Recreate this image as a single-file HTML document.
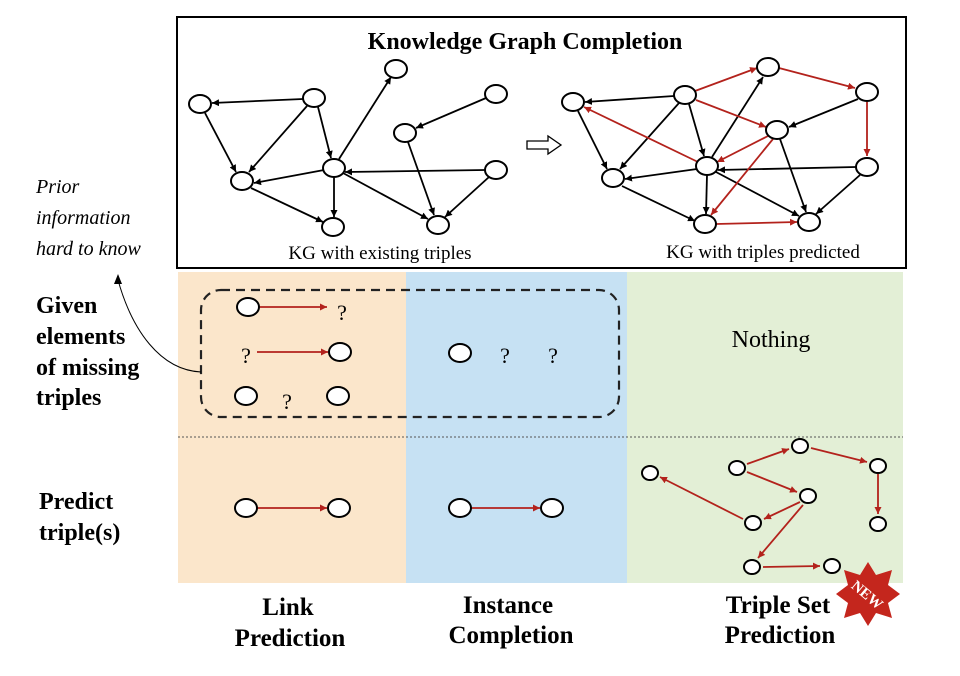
<!DOCTYPE html>
<html><head><meta charset="utf-8"><style>
html,body{margin:0;padding:0;background:#fff}
svg{display:block}
text{font-family:"Liberation Serif",serif}
</style></head><body>
<svg width="960" height="676" viewBox="0 0 960 676" xmlns="http://www.w3.org/2000/svg">
<defs>
<marker id="ab" viewBox="0 0 10 10" refX="10" refY="5" markerWidth="7" markerHeight="7" orient="auto-start-reverse" markerUnits="userSpaceOnUse"><path d="M0,0 L10,5 L0,10 z" fill="#000"/></marker>
<marker id="ar" viewBox="0 0 10 10" refX="10" refY="5" markerWidth="7" markerHeight="7" orient="auto-start-reverse" markerUnits="userSpaceOnUse"><path d="M0,0 L10,5 L0,10 z" fill="#b3221c"/></marker>
</defs>
<rect x="178" y="272" width="228" height="311" fill="#fbe6cb"/>
<rect x="406" y="272" width="221" height="311" fill="#c6e1f3"/>
<rect x="627" y="272" width="276" height="311" fill="#e3efd6"/>
<line x1="178" y1="437" x2="903" y2="437" stroke="#555" stroke-width="1" stroke-dasharray="2,2"/>
<rect x="177" y="17" width="729" height="251" fill="#fff" stroke="#000" stroke-width="2"/>
<text x="525" y="49" font-size="24" font-weight="bold" text-anchor="middle">Knowledge Graph Completion</text>
<text x="380" y="259" font-size="19" text-anchor="middle">KG with existing triples</text>
<text x="763" y="258" font-size="19" text-anchor="middle">KG with triples predicted</text>
<path d="M527,141 L548,141 L548,136 L561,145 L548,154 L548,149 L527,149 z" fill="#fff" stroke="#000" stroke-width="1.3"/>
<g stroke="#000" stroke-width="1.8" fill="none" marker-end="url(#ab)">
<line x1="303" y1="99" x2="212" y2="103"/>
<line x1="205" y1="113" x2="236" y2="172"/>
<line x1="307" y1="106" x2="249" y2="172"/>
<line x1="318" y1="107" x2="331" y2="158"/>
<line x1="339" y1="159" x2="391" y2="77"/>
<line x1="324" y1="170" x2="254" y2="183"/>
<line x1="334" y1="177" x2="334" y2="217"/>
<line x1="251" y1="188" x2="323" y2="222"/>
<line x1="343" y1="173" x2="428" y2="219"/>
<line x1="485" y1="170" x2="345" y2="172"/>
<line x1="489" y1="177" x2="445" y2="217"/>
<line x1="486" y1="98" x2="416" y2="128"/>
<line x1="408" y1="142" x2="434" y2="215"/>
<line x1="674" y1="96" x2="585" y2="102"/>
<line x1="578" y1="111" x2="607" y2="169"/>
<line x1="679" y1="103" x2="620" y2="169"/>
<line x1="689" y1="104" x2="704" y2="156"/>
<line x1="712" y1="157" x2="763" y2="77"/>
<line x1="697" y1="169" x2="625" y2="179"/>
<line x1="707" y1="175" x2="706" y2="214"/>
<line x1="622" y1="186" x2="695" y2="221"/>
<line x1="716" y1="172" x2="799" y2="216"/>
<line x1="856" y1="167" x2="718" y2="170"/>
<line x1="860" y1="175" x2="816" y2="214"/>
<line x1="858" y1="99" x2="789" y2="127"/>
<line x1="780" y1="139" x2="806" y2="212"/>
</g>
<g stroke="#b3221c" stroke-width="1.8" fill="none" marker-end="url(#ar)">
<line x1="695" y1="91" x2="757" y2="68"/>
<line x1="779" y1="68" x2="855" y2="88"/>
<line x1="696" y1="100" x2="766" y2="127"/>
<line x1="698" y1="162" x2="584" y2="107"/>
<line x1="768" y1="136" x2="717" y2="162"/>
<line x1="773" y1="139" x2="711" y2="215"/>
<line x1="867" y1="102" x2="867" y2="156"/>
<line x1="716" y1="224" x2="797" y2="222"/>
<line x1="259" y1="307" x2="327" y2="307"/>
<line x1="257" y1="352" x2="328" y2="352"/>
<line x1="257" y1="508" x2="327" y2="508"/>
<line x1="471" y1="508" x2="540" y2="508"/>
<line x1="747" y1="464" x2="789" y2="449"/>
<line x1="811" y1="448" x2="867" y2="462"/>
<line x1="878" y1="474" x2="878" y2="514"/>
<line x1="747" y1="472" x2="797" y2="492"/>
<line x1="800" y1="502" x2="764" y2="519"/>
<line x1="743" y1="519" x2="660" y2="477"/>
<line x1="803" y1="505" x2="758" y2="558"/>
<line x1="763" y1="567" x2="820" y2="566"/>
</g>
<g fill="#fff" stroke="#000" stroke-width="2">
<ellipse cx="200" cy="104" rx="11" ry="9"/><ellipse cx="314" cy="98" rx="11" ry="9"/>
<ellipse cx="396" cy="69" rx="11" ry="9"/><ellipse cx="496" cy="94" rx="11" ry="9"/>
<ellipse cx="405" cy="133" rx="11" ry="9"/><ellipse cx="242" cy="181" rx="11" ry="9"/>
<ellipse cx="334" cy="168" rx="11" ry="9"/><ellipse cx="496" cy="170" rx="11" ry="9"/>
<ellipse cx="333" cy="227" rx="11" ry="9"/><ellipse cx="438" cy="225" rx="11" ry="9"/>
<ellipse cx="573" cy="102" rx="11" ry="9"/><ellipse cx="685" cy="95" rx="11" ry="9"/>
<ellipse cx="768" cy="67" rx="11" ry="9"/><ellipse cx="867" cy="92" rx="11" ry="9"/>
<ellipse cx="777" cy="130" rx="11" ry="9"/><ellipse cx="707" cy="166" rx="11" ry="9"/>
<ellipse cx="613" cy="178" rx="11" ry="9"/><ellipse cx="867" cy="167" rx="11" ry="9"/>
<ellipse cx="705" cy="224" rx="11" ry="9"/><ellipse cx="809" cy="222" rx="11" ry="9"/>
<ellipse cx="248" cy="307" rx="11" ry="9"/><ellipse cx="340" cy="352" rx="11" ry="9"/>
<ellipse cx="246" cy="396" rx="11" ry="9"/><ellipse cx="338" cy="396" rx="11" ry="9"/>
<ellipse cx="460" cy="353" rx="11" ry="9"/>
<ellipse cx="246" cy="508" rx="11" ry="9"/><ellipse cx="339" cy="508" rx="11" ry="9"/>
<ellipse cx="460" cy="508" rx="11" ry="9"/><ellipse cx="552" cy="508" rx="11" ry="9"/>
<ellipse cx="650" cy="473" rx="8" ry="7"/><ellipse cx="737" cy="468" rx="8" ry="7"/>
<ellipse cx="800" cy="446" rx="8" ry="7"/><ellipse cx="878" cy="466" rx="8" ry="7"/>
<ellipse cx="808" cy="496" rx="8" ry="7"/><ellipse cx="753" cy="523" rx="8" ry="7"/>
<ellipse cx="878" cy="524" rx="8" ry="7"/><ellipse cx="752" cy="567" rx="8" ry="7"/>
<ellipse cx="832" cy="566" rx="8" ry="7"/>
</g>
<rect x="201" y="290" width="418" height="127" rx="20" fill="none" stroke="#222" stroke-width="2.2" stroke-dasharray="9,6"/>
<g font-size="22" text-anchor="middle">
<text x="342" y="320">?</text><text x="246" y="363">?</text><text x="287" y="409">?</text>
<text x="505" y="363">?</text><text x="553" y="363">?</text>
</g>
<text x="771" y="347" font-size="24" text-anchor="middle">Nothing</text>
<g font-size="20" font-style="italic">
<text x="36" y="193">Prior</text>
<text x="36" y="224">information</text>
<text x="36" y="255">hard to know</text>
</g>
<path d="M201,372 C160,370 132,330 118,280" fill="none" stroke="#000" stroke-width="1"/>
<path d="M118,274 L114,284 L122,284 z" fill="#000"/>
<g font-size="24" font-weight="bold">
<text x="36" y="313">Given</text>
<text x="36" y="344">elements</text>
<text x="36" y="375">of missing</text>
<text x="36" y="405">triples</text>
<text x="39" y="509">Predict</text>
<text x="39" y="540">triple(s)</text>
</g>
<g font-size="25" font-weight="bold" text-anchor="middle">
<text x="288" y="615">Link</text>
<text x="290" y="646">Prediction</text>
<text x="508" y="613">Instance</text>
<text x="511" y="643">Completion</text>
<text x="778" y="613">Triple Set</text>
<text x="780" y="643">Prediction</text>
</g>
<g transform="translate(868,594)">
<polygon fill="#c4261d" points="0,-32 8,-19 24,-24 20,-9 32,0 20,9 24,24 8,19 0,32 -8,19 -24,24 -20,9 -32,0 -20,-9 -24,-24 -8,-19"/>
<text x="0" y="6" font-size="15" font-weight="bold" fill="#fff" text-anchor="middle" font-family="Liberation Sans,sans-serif" transform="rotate(40)">NEW</text>
</g>
</svg>
</body></html>
